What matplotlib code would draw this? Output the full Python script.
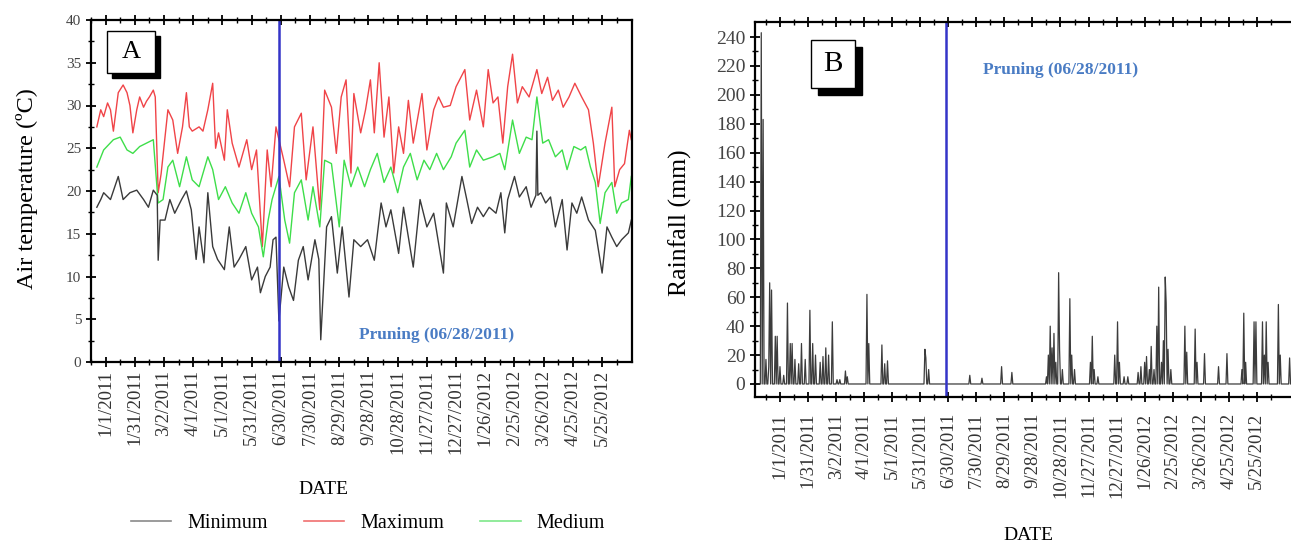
import numpy as np
import matplotlib
matplotlib.use("Agg")
import matplotlib.pyplot as plt
from matplotlib.patches import Rectangle
from matplotlib.lines import Line2D

plt.rcParams['font.family'] = ['Liberation Serif', 'DejaVu Serif']

# x values are days counted from 1/1/2011
tick_days = [0, 30, 60, 90, 120, 150, 180, 210, 240, 270, 300, 330, 360, 390, 420, 450, 480, 510]
tick_labels = ['1/1/2011', '1/31/2011', '3/2/2011', '4/1/2011', '5/1/2011', '5/31/2011',
               '6/30/2011', '7/30/2011', '8/29/2011', '9/28/2011', '10/28/2011', '11/27/2011',
               '12/27/2011', '1/26/2012', '2/25/2012', '3/26/2012', '4/25/2012', '5/25/2012']
pruning_day = 178  # 06/28/2011

max_days = [-9, -5, -2, 2, 5, 8, 13, 18, 22, 25, 28, 32, 35, 39, 42, 45, 49, 51, 54, 57,
            64, 69, 74, 79, 83, 86, 89, 96, 100, 105, 110, 113, 116, 122, 125, 130, 137, 145, 150, 155,
            161, 166, 170, 175, 183, 189, 194, 201, 206, 213, 220, 225, 232, 237, 242, 247, 252, 255, 262, 267,
            272, 276, 281, 286, 291, 296, 301, 306, 311, 316, 325, 330, 337, 342, 347, 354, 360, 369, 374, 381,
            388, 393, 398, 403, 408, 413, 418, 423, 428, 435, 443, 448, 454, 459, 465, 470, 476, 482, 489, 496,
            501, 506, 513, 520, 523, 528, 533, 538, 540]
max_temp = [27.5, 29.5, 28.7, 30.3, 29.5, 27.0, 31.5, 32.4, 31.5, 30.0, 26.8, 29.5, 31.0, 29.8, 30.5, 31.0, 31.8, 31.0, 19.8, 22.0,
            29.5, 28.3, 24.4, 27.5, 31.5, 27.5, 27.0, 27.5, 27.0, 29.5, 32.6, 25.0, 26.8, 23.6, 29.5, 25.6, 22.8, 26.0, 22.5, 24.8,
            13.5, 24.8, 20.5, 27.5, 23.6, 20.5, 27.5, 29.1, 21.3, 27.5, 17.8, 31.8, 29.8, 24.4, 31.0, 33.0, 22.1, 31.4, 26.8, 29.5,
            33.0, 26.8, 35.0, 26.3, 31.0, 22.1, 27.5, 24.4, 30.6, 25.6, 31.4, 24.8, 29.5, 31.0, 29.8, 30.0, 32.2, 34.2, 28.3, 31.8,
            27.5, 34.2, 30.3, 31.0, 25.6, 32.2, 36.0, 30.3, 32.2, 31.0, 34.2, 31.4, 33.3, 30.6, 31.8, 29.8, 31.0, 32.6, 31.0, 29.5,
            25.6, 20.5, 25.6, 29.8, 20.5, 22.5, 23.2, 27.1, 26.0]

min_days = [-9, -5, -2, 5, 13, 18, 25, 32, 39, 44, 49, 53, 54, 56, 61, 66, 71, 78, 83, 88,
            93, 96, 101, 105, 110, 115, 122, 127, 132, 137, 144, 150, 156, 159, 164, 169, 172, 175, 178, 183,
            188, 193, 198, 203, 208, 215, 219, 221, 227, 232, 238, 243, 250, 255, 262, 269, 276, 283, 288, 293,
            301, 306, 316, 323, 330, 337, 347, 350, 357, 366, 371, 376, 382, 388, 394, 401, 406, 410, 413, 420,
            425, 432, 437, 442, 443, 444, 447, 452, 457, 462, 469, 474, 479, 484, 489, 496, 503, 510, 515, 520,
            525, 530, 537, 540]
min_temp = [18.1, 19.0, 19.8, 19.0, 21.7, 19.0, 19.8, 20.1, 19.0, 18.1, 20.1, 19.5, 11.9, 16.6, 16.6, 19.0, 17.4, 19.0, 20.0, 17.8,
            12.0, 15.8, 11.6, 19.8, 13.5, 12.0, 10.8, 15.8, 11.1, 12.0, 13.5, 9.6, 11.1, 8.1, 10.0, 11.1, 14.3, 14.6, 4.8, 11.1,
            8.8, 7.2, 11.9, 13.5, 9.6, 14.3, 12.0, 2.6, 15.8, 17.0, 10.4, 15.8, 7.6, 14.3, 13.5, 14.3, 11.9, 18.6, 15.8, 17.8,
            12.7, 18.1, 11.1, 19.0, 15.8, 17.4, 10.4, 18.6, 15.8, 21.7, 19.0, 16.2, 18.1, 17.0, 18.1, 17.4, 19.8, 15.1, 19.0, 21.7,
            19.3, 20.5, 18.1, 19.5, 27.0, 19.5, 19.8, 18.6, 19.3, 15.8, 19.0, 13.1, 18.6, 17.4, 19.3, 16.6, 15.4, 10.4, 15.8, 14.6,
            13.5, 14.3, 15.1, 16.6]

med_days = [-9, -2, 8, 15, 22, 28, 35, 42, 49, 54, 59, 64, 69, 76, 83, 89, 96, 105, 110, 116,
            123, 130, 137, 144, 150, 157, 162, 167, 171, 178, 184, 189, 194, 201, 208, 213, 220, 225, 232, 240,
            245, 252, 259, 266, 272, 279, 286, 293, 300, 306, 313, 320, 327, 333, 340, 347, 355, 360, 369, 374,
            381, 388, 398, 405, 410, 418, 425, 432, 438, 443, 449, 455, 462, 469, 474, 481, 488, 493, 498, 503,
            508, 513, 520, 525, 530, 537, 540]
med_temp = [22.8, 24.8, 26.0, 26.3, 24.8, 24.4, 25.2, 25.6, 26.0, 18.6, 19.0, 22.8, 23.6, 20.5, 24.0, 21.3, 20.5, 24.0, 22.5, 19.0,
            20.5, 18.6, 17.4, 19.8, 17.4, 15.8, 12.3, 16.6, 19.0, 21.7, 16.6, 13.9, 19.8, 21.3, 16.6, 20.5, 15.8, 23.6, 23.2, 15.8,
            23.6, 20.5, 22.8, 20.5, 22.5, 24.4, 21.0, 22.8, 19.8, 22.8, 24.4, 21.3, 23.6, 22.5, 24.4, 22.5, 24.0, 25.6, 27.1, 22.8,
            24.8, 23.6, 24.0, 24.4, 22.5, 28.3, 24.4, 26.3, 26.0, 31.0, 25.6, 26.0, 24.0, 24.8, 22.5, 25.2, 24.8, 25.2, 22.8, 21.0,
            16.2, 19.8, 21.0, 17.4, 18.6, 19.0, 21.7]

# rain events (day, mm); all other days are dry
rain_days = [-20, -18, -15, -12, -11, -9, -5, -3, 0, 4, 8, 11, 13, 16, 20, 23, 27, 32, 35, 38,
             43, 46, 49, 52, 56, 61, 64, 70, 72, 93, 95, 109, 112, 115, 155, 156, 159, 203, 216, 237,
             248, 285, 287, 289, 291, 293, 295, 298, 299, 302, 310, 312, 315, 332, 334, 336, 340, 358, 361, 363,
             368, 372, 383, 386, 390, 392, 395, 397, 400, 403, 405, 408, 410, 412, 413, 415, 418, 433, 435, 444,
             446, 454, 469, 478, 494, 496, 498, 507, 509, 516, 518, 520, 522, 533, 535, 545]
rain_mm = [243, 183, 17, 12, 70, 65, 33, 33, 12, 6, 56, 28, 28, 17, 14, 28, 17, 51, 28, 20,
           15, 19, 25, 20, 43, 3, 3, 9, 5, 62, 28, 27, 14, 16, 24, 18, 10, 6, 4, 12,
           8, 5, 20, 40, 25, 35, 15, 77, 24, 10, 59, 20, 10, 15, 33, 10, 5, 20, 43, 15,
           5, 5, 8, 12, 15, 19, 10, 26, 10, 40, 67, 15, 30, 74, 56, 24, 10, 40, 22, 38,
           15, 21, 12, 21, 10, 49, 15, 43, 43, 43, 20, 43, 15, 55, 20, 18]

rain_x = np.arange(-21, 561)
rain_y = np.zeros(len(rain_x))
for d, v in zip(rain_days, rain_mm):
    rain_y[d + 21] = v

W, H = 1291, 541
fig = plt.figure(figsize=(W / 100, H / 100), dpi=100)

prune_col = '#3434c8'
text_col = '#4a7cc4'
tick_col = '#333333'


def boxed_letter(ax, letter, x0, y0, w, h, dx, dy, size):
    ax.add_patch(Rectangle((x0 + dx, y0 - dy), w, h, transform=ax.transAxes,
                           facecolor='black', edgecolor='black', zorder=5))
    ax.add_patch(Rectangle((x0, y0), w, h, transform=ax.transAxes,
                           facecolor='white', edgecolor='black', lw=1.0, zorder=6))
    ax.text(x0 + w / 2, y0 + h / 2, letter, transform=ax.transAxes, ha='center',
            va='center', fontsize=size, zorder=7)


def style_axis(ax):
    for s in ax.spines.values():
        s.set_linewidth(1.6)
    ax.set_xticks(tick_days)
    ax.set_xticks([d + 15 for d in tick_days[:-1]] + [-15, 525], minor=True)
    ax.set_xticklabels(tick_labels, rotation=90, fontsize=13.5, color=tick_col)
    ax.tick_params(axis='x', which='major', direction='inout', length=7, width=1.3,
                   top=True, pad=2)
    ax.tick_params(axis='x', which='minor', direction='inout', length=4, width=1.0, top=True)
    ax.tick_params(axis='y', which='major', direction='inout', length=7, width=1.3)
    ax.tick_params(axis='y', which='minor', direction='inout', length=4, width=1.0)


# ---- panel A: air temperature
axA = fig.add_axes([91 / W, 1 - 362 / H, 541 / W, 342 / H])
l_max, = axA.plot(max_days, max_temp, color='#f04448', lw=1.0)
l_med, = axA.plot(med_days, med_temp, color='#3ede4a', lw=1.0)
l_min, = axA.plot(min_days, min_temp, color='#3a3a3a', lw=1.0)
axA.axvline(pruning_day, color=prune_col, lw=1.8)
axA.set_xlim(-9.1, 540.7)
axA.set_ylim(0, 40)
style_axis(axA)
axA.set_yticks(np.arange(0, 41, 5))
axA.set_yticks(np.arange(0, 40, 2.5), minor=True)
axA.tick_params(axis='y', labelsize=11, labelcolor='#444444')
axA.set_ylabel('Air temperature (ºC)', fontsize=17.5)
axA.yaxis.set_label_coords(-0.098, 0.506)
axA.text(340, 3.2, 'Pruning (06/28/2011)', color=text_col, fontsize=12.5,
         fontweight='bold', ha='center', va='center')
boxed_letter(axA, 'A', 0.0296, 0.845, 0.0887, 0.123, 0.010, 0.016, 19)

# ---- panel B: rainfall
axB = fig.add_axes([755 / W, 1 - 397 / H, (1304 - 755) / W, 375 / H])
axB.plot(rain_x, rain_y, color='#3c3c3c', lw=0.9)
axB.axvline(pruning_day, color=prune_col, lw=1.8)
axB.set_xlim(-26.7, 560.4)
axB.set_ylim(-9, 250.4)
style_axis(axB)
axB.set_yticks(np.arange(0, 241, 20))
axB.set_yticks(np.arange(0, 250, 10), minor=True)
axB.tick_params(axis='y', labelsize=14, labelcolor='#444444')
axB.tick_params(axis='x', pad=8)
axB.set_ylabel('Rainfall (mm)', fontsize=18.5)
axB.yaxis.set_label_coords(-0.115, 0.464)
axB.text(300, 217, 'Pruning (06/28/2011)', color=text_col, fontsize=12.5,
         fontweight='bold', ha='center', va='center')
boxed_letter(axB, 'B', 0.102, 0.824, 0.080, 0.128, 0.012, 0.018, 21)

fig.text(323 / W, 1 - 490 / H, 'DATE', ha='center', va='center', fontsize=14)
fig.text(1028 / W, 1 - 535 / H, 'DATE', ha='center', va='center', fontsize=14)

handles = [Line2D([], [], color='#8a8a8a', lw=1.2),
           Line2D([], [], color='#f07070', lw=1.2),
           Line2D([], [], color='#7ee88a', lw=1.2)]
fig.legend(handles, ['Minimum', 'Maximum', 'Medium'], loc='center',
           bbox_to_anchor=(368 / W, 1 - 523 / H), ncol=3, frameon=False,
           fontsize=14.5, handlelength=2.0, handletextpad=0.8, columnspacing=1.8)

fig.savefig('out.png', dpi=100)
